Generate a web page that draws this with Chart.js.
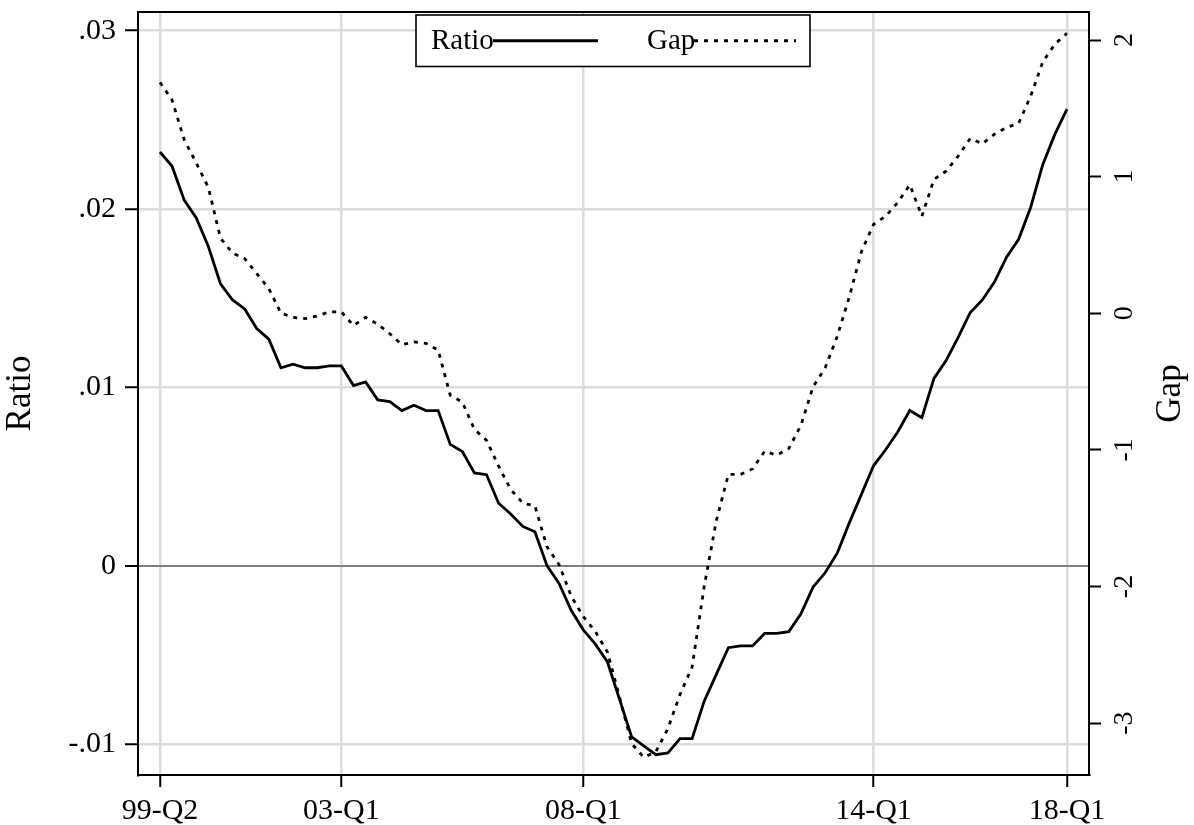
<!DOCTYPE html>
<html>
<head>
<meta charset="utf-8">
<title>Ratio and Gap</title>
<script src="https://cdn.jsdelivr.net/npm/chart.js@4.4.1/dist/chart.umd.min.js"></script>
<style>
  html, body { margin: 0; padding: 0; background: #fff; }
  #wrap { width: 1194px; height: 825px; }
</style>
</head>
<body>
<div id="wrap"><canvas id="c" width="1194" height="825"></canvas></div>
<script>
// Quarterly categories, 1999 Q2 through 2018 Q1
const firstYear = 1999, firstQuarter = 2, quarterCount = 76;
const quarters = [];
for (let k = 0; k < quarterCount; k++) {
  const q = firstQuarter - 1 + k;
  const yr = firstYear + Math.floor(q / 4);
  quarters.push(String(yr % 100).padStart(2, '0') + '-Q' + (q % 4 + 1));
}

// Ratio (left axis)
const ratio = [
  0.0232, 0.0224, 0.0205, 0.0195, 0.0179, 0.0158, 0.0149, 0.0144, 0.0133, 0.0127,
  0.0111, 0.0113, 0.0111, 0.0111, 0.0112, 0.0112, 0.0101, 0.0103, 0.0093, 0.0092,
  0.0087, 0.0090, 0.0087, 0.0087, 0.0068, 0.0064, 0.0052, 0.0051, 0.0035, 0.0029,
  0.0022, 0.0019, 0.0000, -0.0010, -0.0025, -0.0036, -0.0044, -0.0054, -0.0075, -0.0096,
  -0.0101, -0.0106, -0.0105, -0.0097, -0.0097, -0.0076, -0.0061, -0.0046, -0.0045, -0.0045,
  -0.0038, -0.0038, -0.0037, -0.0027, -0.0012, -0.0004, 0.0007, 0.0024, 0.0040, 0.0056,
  0.0065, 0.0075, 0.0087, 0.0083, 0.0105, 0.0115, 0.0128, 0.0142, 0.0149, 0.0159,
  0.0173, 0.0183, 0.0201, 0.0225, 0.0242, 0.0256
];

// Gap (right axis)
const gap = [
  1.69, 1.56, 1.27, 1.10, 0.92, 0.55, 0.44, 0.40, 0.29, 0.18,
  0.00, -0.03, -0.04, -0.02, 0.01, 0.01, -0.09, -0.03, -0.08, -0.15,
  -0.23, -0.21, -0.22, -0.27, -0.60, -0.65, -0.85, -0.93, -1.12, -1.29,
  -1.39, -1.41, -1.71, -1.84, -2.07, -2.22, -2.33, -2.48, -2.81, -3.15,
  -3.25, -3.21, -3.04, -2.79, -2.59, -2.00, -1.52, -1.18, -1.18, -1.14,
  -1.01, -1.04, -0.99, -0.82, -0.54, -0.40, -0.17, 0.12, 0.45, 0.65,
  0.71, 0.81, 0.94, 0.71, 0.98, 1.04, 1.15, 1.28, 1.24, 1.31,
  1.36, 1.39, 1.59, 1.84, 1.97, 2.05
];

// Axis ticks
const xTickLabels = ['99-Q2', '03-Q1', '08-Q1', '14-Q1', '18-Q1'];
const ratioTicks = [-0.01, 0, 0.01, 0.02, 0.03];
const ratioTickLabels = ['-.01', '0', '.01', '.02', '.03'];
const gapTicks = [-3, -2, -1, 0, 1, 2];
const gapTickLabels = ['-3', '-2', '-1', '0', '1', '2'];

const serif = "'Liberation Serif', 'Times New Roman', 'DejaVu Serif', serif";
Chart.defaults.font.family = serif;
Chart.defaults.color = '#000';

const GRID = '#dcdcdc';

// keep the plot box fixed: no extra room reserved for overhanging labels
function fixBox(s, size) {
  if (s.isHorizontal()) s.height = size; else s.width = size;
  s.paddingTop = 0; s.paddingBottom = 0; s.paddingLeft = 0; s.paddingRight = 0;
}

// Frame top edge, the key box and the right-hand axis title
const decorations = {
  id: 'decorations',
  afterDraw(chart) {
    const { ctx, chartArea: a } = chart;
    ctx.save();
    ctx.strokeStyle = '#000';
    ctx.lineWidth = 2;
    ctx.beginPath();
    ctx.moveTo(a.left, a.top);
    ctx.lineTo(a.right, a.top);
    ctx.stroke();

    // key
    const bx = a.left + 278, by = a.top + 3, bw = 394, bh = 51.5;
    const cy = by + bh / 2;
    ctx.fillStyle = '#fff';
    ctx.fillRect(bx, by, bw, bh);
    ctx.lineWidth = 1.6;
    ctx.strokeRect(bx, by, bw, bh);

    ctx.fillStyle = '#000';
    ctx.font = '29px ' + serif;
    ctx.textBaseline = 'middle';
    ctx.textAlign = 'left';
    ctx.fillText('Ratio', bx + 15, cy + 1);
    ctx.lineWidth = 2.8;
    ctx.beginPath();
    ctx.moveTo(bx + 77, cy);
    ctx.lineTo(bx + 182, cy);
    ctx.stroke();

    ctx.fillText('Gap', bx + 231, cy + 1);
    ctx.setLineDash([4, 6]);
    ctx.beginPath();
    ctx.moveTo(bx + 278, cy);
    ctx.lineTo(bx + 380, cy);
    ctx.stroke();
    ctx.setLineDash([]);

    // right axis title, reading upward
    ctx.save();
    ctx.translate(1171, (a.top + a.bottom) / 2);
    ctx.rotate(-Math.PI / 2);
    ctx.font = '35px ' + serif;
    ctx.textAlign = 'center';
    ctx.textBaseline = 'middle';
    ctx.fillText('Gap', 0, 0);
    ctx.restore();

    ctx.restore();
  }
};

new Chart(document.getElementById('c'), {
  type: 'line',
  data: {
    datasets: [
      {
        label: 'Ratio',
        data: ratio.map((v, i) => ({ x: i, y: v })),
        yAxisID: 'y',
        borderColor: '#000',
        borderWidth: 2.8,
        pointRadius: 0,
        tension: 0,
        fill: false
      },
      {
        label: 'Gap',
        data: gap.map((v, i) => ({ x: i, y: v })),
        yAxisID: 'y1',
        borderColor: '#000',
        borderWidth: 2.8,
        borderDash: [4, 6],
        borderCapStyle: 'butt',
        pointRadius: 0,
        tension: 0,
        fill: false
      }
    ]
  },
  options: {
    responsive: false,
    animation: false,
    layout: { padding: { top: 12, left: 0, right: 0, bottom: 0 } },
    plugins: {
      legend: { display: false },
      tooltip: { enabled: false }
    },
    scales: {
      x: {
        type: 'linear',
        min: -1.82,
        max: 76.82,
        afterBuildTicks: s => { s.ticks = xTickLabels.map(l => ({ value: quarters.indexOf(l) })); },
        afterFit: s => fixBox(s, 50),
        ticks: {
          callback: v => quarters[v],
          font: { size: 30 },
          color: '#000',
          padding: 6,
          maxRotation: 0,
          autoSkip: false
        },
        grid: {
          color: GRID,
          lineWidth: 2.5,
          tickColor: '#000',
          tickWidth: 2,
          tickLength: 12
        },
        border: { display: true, color: '#000', width: 2 }
      },
      y: {
        type: 'linear',
        position: 'left',
        min: -0.01174,
        max: 0.03105,
        afterBuildTicks: s => { s.ticks = ratioTicks.map(v => ({ value: v })); },
        afterFit: s => fixBox(s, 138),
        ticks: {
          callback: (v, i) => ratioTickLabels[i],
          font: { size: 30 },
          color: '#000',
          padding: 9
        },
        grid: {
          color: c => (c.tick && c.tick.value === 0 ? '#808080' : GRID),
          lineWidth: c => (c.tick && c.tick.value === 0 ? 2 : 2.5),
          tickColor: '#000',
          tickWidth: 2,
          tickLength: 13
        },
        border: { display: true, color: '#000', width: 2 },
        title: {
          display: true,
          text: 'Ratio',
          font: { size: 35 },
          color: '#000',
          padding: { top: 0, bottom: 0 }
        }
      },
      y1: {
        type: 'linear',
        position: 'right',
        min: -3.38,
        max: 2.205,
        afterBuildTicks: s => { s.ticks = gapTicks.map(v => ({ value: v })); },
        afterFit: s => fixBox(s, 105),
        ticks: {
          callback: (v, i) => gapTickLabels[i],
          font: { size: 28 },
          color: '#000',
          padding: 12,
          minRotation: 90,
          maxRotation: 90,
          crossAlign: 'center'
        },
        grid: {
          drawOnChartArea: false,
          drawTicks: true,
          tickColor: '#000',
          tickWidth: 2,
          tickLength: 12
        },
        border: { display: true, color: '#000', width: 2 }
      }
    }
  },
  plugins: [decorations]
});
</script>
</body>
</html>
